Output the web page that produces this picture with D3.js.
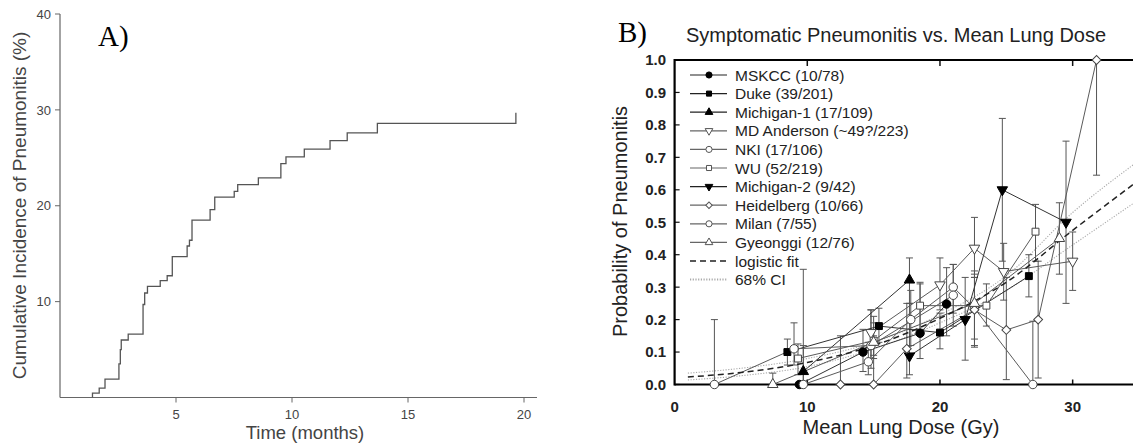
<!DOCTYPE html>
<html>
<head>
<meta charset="utf-8">
<script src="https://cdn.jsdelivr.net/npm/d3@7"></script>
<style>
  body { margin: 0; background: #fff; }
  svg { display: block; font-family: "Liberation Sans", Arial, sans-serif; }
</style>
</head>
<body>
<div id="chart"></div>
<script>
// ---------- Panel A : cumulative incidence (step curve) ----------
var stepTimes  = [1.40, 1.40, 1.69, 1.94, 2.54, 2.60, 2.64, 2.94, 3.58, 3.65, 3.77, 4.32, 4.62, 4.84, 5.48, 5.58, 5.69, 6.47, 6.67, 7.51, 7.66, 8.55, 9.52, 9.74, 10.53, 11.64, 12.38, 13.68, 19.65];
var stepValues = [0, 0.45, 0.97, 1.91, 3.5, 5.0, 6.0, 6.6, 9.7, 10.9, 11.6, 12.2, 12.7, 14.7, 15.8, 16.4, 18.5, 19.6, 20.9, 21.5, 22.2, 22.9, 24.4, 25.1, 25.9, 26.8, 27.6, 28.6, 29.7];
var aXTicks = [5, 10, 15, 20];
var aYTicks = [10, 20, 30, 40];

// ---------- Panel B : probability of pneumonitis vs MLD ----------
var bXTicks = [0, 10, 20, 30];
var bYTicks = [0, 0.1, 0.2, 0.3, 0.4, 0.5, 0.6, 0.7, 0.8, 0.9, 1.0];

var seriesNames = ["MSKCC (10/78)", "Duke (39/201)", "Michigan-1 (17/109)", "MD Anderson (~49?/223)", "NKI (17/106)",
                   "WU (52/219)", "Michigan-2 (9/42)", "Heidelberg (10/66)", "Milan (7/55)", "Gyeonggi (12/76)"];
var seriesSymbols = ["circle", "square", "triUp", "triDown", "circle", "square", "triDown", "diamond", "circle", "triUp"];
var seriesFilled  = [true, true, true, false, false, false, true, false, false, false];

var mskccDose = [9.4, 14.2, 18.5, 20.5];
var mskccProb = [0, 0.10, 0.158, 0.248];
var mskccLo   = [0, 0.04, 0.08, 0.15];
var mskccHi   = [0, 0.17, 0.31, 0.36];

var dukeDose = [8.5, 15.4, 20.0, 26.7];
var dukeProb = [0.10, 0.18, 0.16, 0.334];
var dukeLo   = [0.06, 0.13, 0.11, 0.27];
var dukeHi   = [0.14, 0.235, 0.22, 0.40];

var mich1Dose = [9.7, 17.7];
var mich1Prob = [0.04, 0.322];
var mich1Lo   = [0, 0.25];
var mich1Hi   = [0.12, 0.39];

var mdaDose = [14.8, 20.0, 22.6, 24.8, 30.0];
var mdaProb = [0.16, 0.307, 0.42, 0.348, 0.38];
var mdaLo   = [0.08, 0.23, 0.33, 0.26, 0.29];
var mdaHi   = [0.23, 0.39, 0.515, 0.435, 0.47];

var nkiDose = [9.7, 14.6, 17.8, 21.0, 22.6, 27.0];
var nkiProb = [0, 0.07, 0.20, 0.30, 0.235, 0];
var nkiLo   = [0, 0.03, 0.12, 0.22, 0.115, 0];
var nkiHi   = [0.355, 0.13, 0.29, 0.37, 0.35, 0.195];

var wuDose = [9.3, 15.0, 18.5, 23.5, 27.2];
var wuProb = [0.08, 0.135, 0.243, 0.243, 0.471];
var wuLo   = [0.03, 0.09, 0.17, 0.18, 0.38];
var wuHi   = [0.125, 0.19, 0.315, 0.31, 0.555];

var mich2Dose = [17.7, 21.9, 24.7, 29.5];
var mich2Prob = [0.088, 0.20, 0.60, 0.50];
var mich2Lo   = [0.03, 0.075, 0.38, 0.25];
var mich2Hi   = [0.25, 0.33, 0.82, 0.75];

var heidDose = [12.5, 15.0, 17.5, 22.6, 25.0, 27.4, 31.8];
var heidProb = [0, 0, 0.11, 0.23, 0.168, 0.20, 1.0];
var heidLo   = [0, 0, 0.02, 0.14, 0.015, 0.02, 0.645];
var heidHi   = [0.15, 0.15, 0.25, 0.33, 0.33, 0.38, 1.0];

var milanDose = [3.0, 9.0, 14.8, 21.0];
var milanProb = [0, 0.11, 0.12, 0.275];
var milanLo   = [0, 0.06, 0.05, 0.18];
var milanHi   = [0.2, 0.19, 0.23, 0.37];

var gyeoDose = [7.4, 15.0, 22.6, 29.0];
var gyeoProb = [0, 0.13, 0.25, 0.45];
var gyeoLo   = [0, 0.08, 0.12, 0.34];
var gyeoHi   = [0.035, 0.21, 0.34, 0.56];

// logistic fit and 68% CI
var fitDose  = [1, 5, 10, 15, 20, 25, 30, 35];
var fitProb  = [0.023, 0.037, 0.068, 0.12, 0.204, 0.315, 0.475, 0.63];
var ciUpper  = [0.035, 0.05, 0.08, 0.13, 0.215, 0.335, 0.53, 0.69];
var ciLower  = [0.014, 0.027, 0.055, 0.11, 0.19, 0.29, 0.43, 0.57];

var allDose = [mskccDose, dukeDose, mich1Dose, mdaDose, nkiDose, wuDose, mich2Dose, heidDose, milanDose, gyeoDose];
var allProb = [mskccProb, dukeProb, mich1Prob, mdaProb, nkiProb, wuProb, mich2Prob, heidProb, milanProb, gyeoProb];
var allLo   = [mskccLo, dukeLo, mich1Lo, mdaLo, nkiLo, wuLo, mich2Lo, heidLo, milanLo, gyeoLo];
var allHi   = [mskccHi, dukeHi, mich1Hi, mdaHi, nkiHi, wuHi, mich2Hi, heidHi, milanHi, gyeoHi];

var svg = d3.select("#chart").append("svg")
    .attr("width", 1133)
    .attr("height", 444);

// ================= PANEL A =================
var ax = d3.scaleLinear().domain([0, 20]).range([60, 524]);
var ay = d3.scaleLinear().domain([0, 40]).range([397.5, 14]);
var grayA = "#666";

var gA = svg.append("g");

// axis lines
gA.append("line").attr("x1", 60).attr("x2", 60).attr("y1", ay(40)).attr("y2", ay(0))
    .attr("stroke", grayA).attr("stroke-width", 1.2);
gA.append("line").attr("x1", 60).attr("x2", 537).attr("y1", ay(0)).attr("y2", ay(0))
    .attr("stroke", grayA).attr("stroke-width", 1.2);

gA.selectAll(".ytick").data(aYTicks).enter().append("line")
    .attr("x1", 55).attr("x2", 60)
    .attr("y1", function(d) { return ay(d); }).attr("y2", function(d) { return ay(d); })
    .attr("stroke", grayA).attr("stroke-width", 1);
gA.selectAll(".ylab").data(aYTicks).enter().append("text")
    .attr("x", 51).attr("y", function(d) { return ay(d); })
    .attr("dy", "0.36em").attr("text-anchor", "end")
    .attr("font-size", 13).attr("fill", "#444")
    .text(function(d) { return d; });

gA.selectAll(".xtick").data(aXTicks).enter().append("line")
    .attr("x1", function(d) { return ax(d); }).attr("x2", function(d) { return ax(d); })
    .attr("y1", ay(0)).attr("y2", ay(0) + 5)
    .attr("stroke", grayA).attr("stroke-width", 1);
gA.selectAll(".xlab").data(aXTicks).enter().append("text")
    .attr("x", function(d) { return ax(d); }).attr("y", 418.5)
    .attr("text-anchor", "middle")
    .attr("font-size", 13).attr("fill", "#444")
    .text(function(d) { return d; });

gA.append("text").attr("x", 305).attr("y", 438.5).attr("text-anchor", "middle")
    .attr("font-size", 18.5).attr("fill", "#444").text("Time (months)");
gA.append("text").attr("transform", "translate(26,205.5) rotate(-90)")
    .attr("text-anchor", "middle").attr("font-size", 19).attr("fill", "#444")
    .text("Cumulative Incidence of Pneumonitis (%)");

gA.append("text").attr("x", 98).attr("y", 46)
    .attr("font-family", "Liberation Serif, Times New Roman, serif")
    .attr("font-size", 29).attr("fill", "#000").text("A)");

// step curve
var stepData = stepTimes.map(function(t, i) { return [t, stepValues[i]]; });
var stepLine = d3.line()
    .x(function(d) { return ax(d[0]); })
    .y(function(d) { return ay(d[1]); })
    .curve(d3.curveStepAfter);
gA.append("path").datum(stepData)
    .attr("d", stepLine)
    .attr("fill", "none").attr("stroke", "#555").attr("stroke-width", 1.3);

// ================= PANEL B =================
var bx = d3.scaleLinear().domain([0, 35]).range([674.6, 1139]);
var by = d3.scaleLinear().domain([0, 1]).range([384.5, 60]);

var gB = svg.append("g");

gB.append("text").attr("x", 896).attr("y", 41.5).attr("text-anchor", "middle")
    .attr("font-size", 20).attr("fill", "#222")
    .text("Symptomatic Pneumonitis vs. Mean Lung Dose");
gB.append("text").attr("x", 618).attr("y", 42)
    .attr("font-family", "Liberation Serif, Times New Roman, serif")
    .attr("font-size", 29).attr("fill", "#000").text("B)");

// axis titles
gB.append("text").attr("x", 901).attr("y", 434).attr("text-anchor", "middle")
    .attr("font-size", 20).attr("fill", "#222").text("Mean Lung Dose (Gy)");
gB.append("text").attr("transform", "translate(627,221.5) rotate(-90)")
    .attr("text-anchor", "middle").attr("font-size", 20).attr("fill", "#222")
    .text("Probability of Pneumonitis");

// ticks (inward)
gB.selectAll(".bytick").data(bYTicks).enter().append("line")
    .attr("x1", bx(0)).attr("x2", bx(0) + 5)
    .attr("y1", function(d) { return by(d); }).attr("y2", function(d) { return by(d); })
    .attr("stroke", "#111").attr("stroke-width", 1.2);
gB.selectAll(".bylab").data(bYTicks).enter().append("text")
    .attr("x", 666).attr("y", function(d) { return by(d); })
    .attr("dy", "0.36em").attr("text-anchor", "end")
    .attr("font-size", 15).attr("font-weight", "bold").attr("fill", "#222")
    .text(function(d) { return d.toFixed(1); });

gB.selectAll(".bxtickTop").data(bXTicks.slice(1)).enter().append("line")
    .attr("x1", function(d) { return bx(d); }).attr("x2", function(d) { return bx(d); })
    .attr("y1", by(1)).attr("y2", by(1) + 6)
    .attr("stroke", "#111").attr("stroke-width", 1.5);
gB.selectAll(".bxtickBot").data(bXTicks.slice(1)).enter().append("line")
    .attr("x1", function(d) { return bx(d); }).attr("x2", function(d) { return bx(d); })
    .attr("y1", by(0)).attr("y2", by(0) - 5)
    .attr("stroke", "#111").attr("stroke-width", 1.5);
gB.selectAll(".bxlab").data(bXTicks).enter().append("text")
    .attr("x", function(d) { return bx(d); }).attr("y", 412)
    .attr("text-anchor", "middle")
    .attr("font-size", 15).attr("font-weight", "bold").attr("fill", "#222")
    .text(function(d) { return d; });

// fit + CI
var fitLine = d3.line()
    .x(function(d) { return bx(d[0]); })
    .y(function(d) { return by(d[1]); })
    .curve(d3.curveMonotoneX);
[ciUpper, ciLower].forEach(function(arr) {
    gB.append("path").datum(fitDose.map(function(d, i) { return [d, arr[i]]; }))
        .attr("d", fitLine).attr("fill", "none")
        .attr("stroke", "#aaa").attr("stroke-width", 1.1).attr("stroke-dasharray", "1.2,1.5");
});

// error bars
allDose.forEach(function(doses, s) {
    var g = gB.append("g").attr("stroke", "#555").attr("stroke-width", 1);
    doses.forEach(function(d, i) {
        var lo = allLo[s][i], hi = allHi[s][i];
        if (hi - lo <= 0) return;
        g.append("line").attr("x1", bx(d)).attr("x2", bx(d)).attr("y1", by(lo)).attr("y2", by(hi));
        if (hi > allProb[s][i]) g.append("line").attr("x1", bx(d) - 3.5).attr("x2", bx(d) + 3.5).attr("y1", by(hi)).attr("y2", by(hi));
        if (lo < allProb[s][i]) g.append("line").attr("x1", bx(d) - 3.5).attr("x2", bx(d) + 3.5).attr("y1", by(lo)).attr("y2", by(lo));
    });
});

// series lines
var seriesLine = d3.line()
    .x(function(d) { return bx(d[0]); })
    .y(function(d) { return by(d[1]); });
allDose.forEach(function(doses, s) {
    gB.append("path").datum(doses.map(function(d, i) { return [d, allProb[s][i]]; }))
        .attr("d", seriesLine).attr("fill", "none")
        .attr("stroke", seriesFilled[s] ? "#333" : "#5a5a5a").attr("stroke-width", 1);
});

gB.append("path").datum(fitDose.map(function(d, i) { return [d, fitProb[i]]; }))
    .attr("d", fitLine).attr("fill", "none")
    .attr("stroke", "#222").attr("stroke-width", 1.5).attr("stroke-dasharray", "6,4");

// frame (thick)
gB.append("line").attr("x1", bx(0)).attr("x2", bx(0)).attr("y1", by(1) - 1).attr("y2", by(0) + 1)
    .attr("stroke", "#000").attr("stroke-width", 2.2);
gB.append("line").attr("x1", bx(0)).attr("x2", 1133).attr("y1", by(0)).attr("y2", by(0))
    .attr("stroke", "#000").attr("stroke-width", 2.2);
gB.append("line").attr("x1", bx(0)).attr("x2", 1133).attr("y1", by(1)).attr("y2", by(1))
    .attr("stroke", "#000").attr("stroke-width", 2);

// markers
function symbolPath(kind, size) {
    if (kind === "circle") return d3.symbol().type(d3.symbolCircle).size(size)();
    if (kind === "square") return d3.symbol().type(d3.symbolSquare).size(size * 0.85)();
    if (kind === "triUp" || kind === "triDown") return d3.symbol().type(d3.symbolTriangle).size(size * 0.85)();
    return d3.symbol().type(d3.symbolSquare).size(size * 0.7)();
}
function symbolRotate(kind) {
    if (kind === "triDown") return 180;
    if (kind === "diamond") return 45;
    return 0;
}
allDose.forEach(function(doses, s) {
    var kind = seriesSymbols[s];
    gB.selectAll(".m" + s).data(doses).enter().append("path")
        .attr("d", symbolPath(kind, 56))
        .attr("transform", function(d, i) {
            return "translate(" + bx(d) + "," + by(allProb[s][i]) + ") rotate(" + symbolRotate(kind) + ")";
        })
        .attr("fill", seriesFilled[s] ? "#000" : "#fff")
        .attr("stroke", seriesFilled[s] ? "#000" : "#444")
        .attr("stroke-width", 1);
});

// legend
var legY0 = 75, legStep = 18.6;
var legend = gB.append("g");
seriesNames.forEach(function(name, s) {
    var y = legY0 + s * legStep;
    legend.append("line").attr("x1", 690).attr("x2", 727).attr("y1", y).attr("y2", y)
        .attr("stroke", seriesFilled[s] ? "#222" : "#666").attr("stroke-width", 1.2);
    legend.append("path").attr("d", symbolPath(seriesSymbols[s], 30))
        .attr("transform", "translate(709," + y + ") rotate(" + symbolRotate(seriesSymbols[s]) + ")")
        .attr("fill", seriesFilled[s] ? "#000" : "#fff")
        .attr("stroke", seriesFilled[s] ? "#000" : "#555").attr("stroke-width", 1);
    legend.append("text").attr("x", 735).attr("y", y).attr("dy", "0.36em")
        .attr("font-size", 15.5).attr("fill", "#222").text(name);
});
var yFit = legY0 + 10 * legStep, yCi = legY0 + 11 * legStep;
legend.append("line").attr("x1", 690).attr("x2", 727).attr("y1", yFit).attr("y2", yFit)
    .attr("stroke", "#222").attr("stroke-width", 1.5).attr("stroke-dasharray", "6,4");
legend.append("text").attr("x", 735).attr("y", yFit).attr("dy", "0.36em")
    .attr("font-size", 15.5).attr("fill", "#222").text("logistic fit");
legend.append("line").attr("x1", 690).attr("x2", 727).attr("y1", yCi).attr("y2", yCi)
    .attr("stroke", "#aaa").attr("stroke-width", 2).attr("stroke-dasharray", "1.2,1.5");
legend.append("text").attr("x", 735).attr("y", yCi).attr("dy", "0.36em")
    .attr("font-size", 15.5).attr("fill", "#222").text("68% CI");
</script>
</body>
</html>
